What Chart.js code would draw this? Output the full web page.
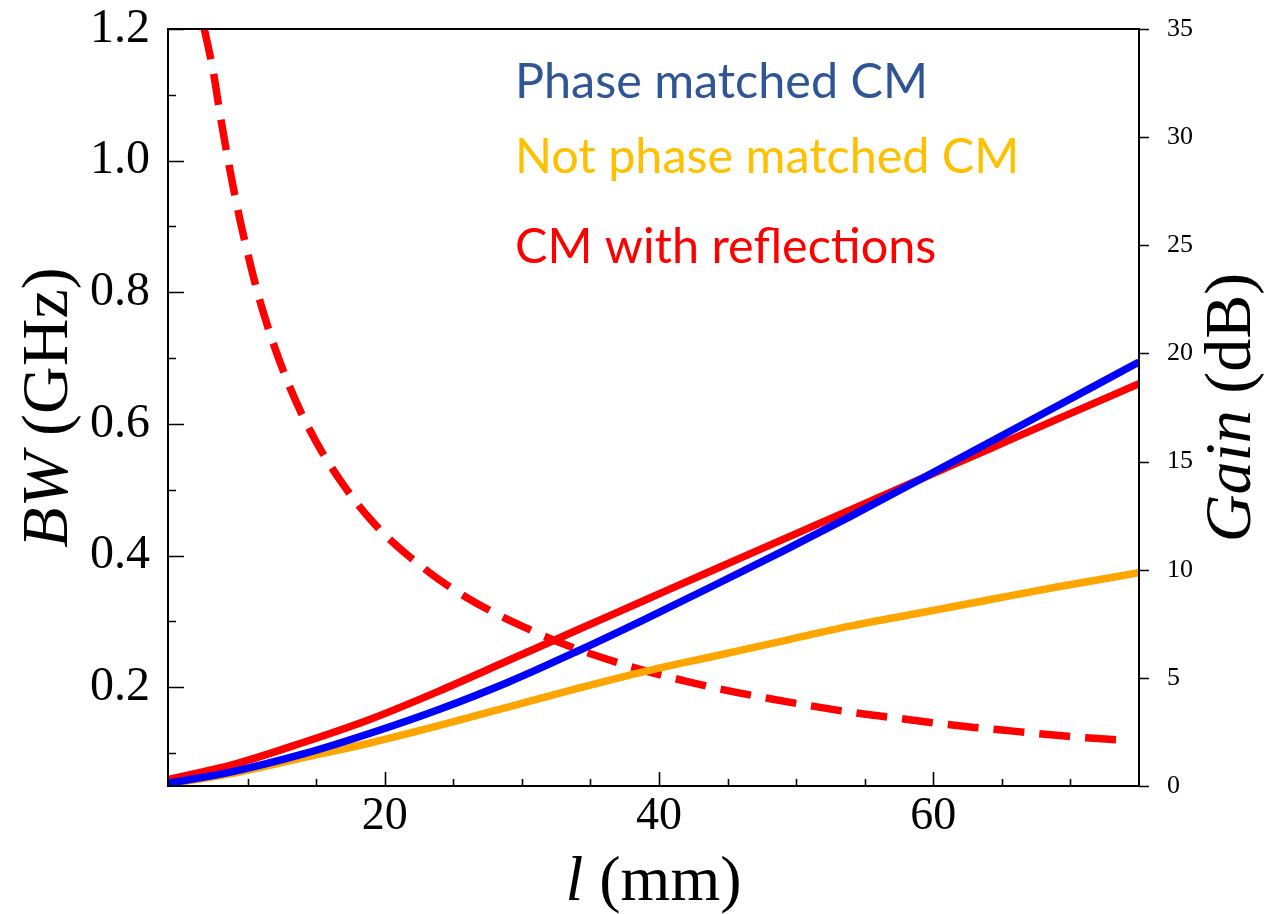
<!DOCTYPE html>
<html>
<head>
<meta charset="utf-8">
<script src="https://cdn.jsdelivr.net/npm/chart.js@4"></script>
<style>
  html, body { margin: 0; padding: 0; background: #ffffff; }
  #wrap { width: 1268px; height: 914px; }
</style>
</head>
<body>
<div id="wrap"><canvas id="gainChart" width="1268" height="914"></canvas></div>
<script>
// length l (mm) used for the three gain curves
const lengthMm = [4.2, 9, 14, 19, 24, 29, 34, 39, 44, 49, 54, 59, 64, 69, 75];
// gain (dB), right axis
const gainPhaseMatched = [0.12, 0.68, 1.47, 2.45, 3.55, 4.8, 6.22, 7.72, 9.27, 10.85, 12.48, 14.16, 15.86, 17.56, 19.6];
const gainNotMatched = [0.08, 0.6, 1.3, 2.0, 2.8, 3.65, 4.5, 5.3, 6.0, 6.7, 7.4, 8.0, 8.6, 9.2, 9.86];
const gainReflections = [0.3, 1.0, 2.0, 3.1, 4.4, 5.8, 7.2, 8.6, 10.0, 11.39, 12.78, 14.17, 15.56, 16.95, 18.6];

// bandwidth (GHz), left axis, dashed curve
const bwLengthMm = [6.85, 7.5, 8, 8.5, 9, 9.5, 10, 10.5, 11, 12, 13, 14, 15, 16, 17, 18, 19, 20,
  22, 24, 26, 28, 30, 33, 36, 39, 42, 45, 48, 51, 54, 57, 60, 63, 66, 69, 72, 74.1];
const bwReflections = [1.2, 1.135, 1.07, 1.01, 0.955, 0.905, 0.86, 0.818, 0.78, 0.715, 0.66, 0.613, 0.573, 0.538, 0.507, 0.479, 0.454, 0.432,
  0.395, 0.363, 0.336, 0.313, 0.293, 0.266, 0.244, 0.225, 0.209, 0.195, 0.183, 0.172, 0.162, 0.154, 0.146, 0.139, 0.133, 0.127, 0.122, 0.119];

// ticks
const xTicks = [10, 15, 20, 25, 30, 35, 40, 45, 50, 55, 60, 65, 70];
const xLabelTicks = [20, 40, 60];
const bwTicks = [0.1, 0.2, 0.3, 0.4, 0.5, 0.6, 0.7, 0.8, 0.9, 1.0, 1.1, 1.2];
const bwLabelTicks = [0.2, 0.4, 0.6, 0.8, 1.0, 1.2];
const gainTicks = [0, 5, 10, 15, 20, 25, 30, 35];

// text legend
const legendLabels = ['Phase matched CM', 'Not phase matched CM', 'CM with reflections'];
const legendColors = ['#2F5597', '#FFC000', '#FF0000'];

const SERIF = '"Liberation Serif", "DejaVu Serif", serif';

const toPoints = (xs, ys) => xs.map((x, i) => ({ x: x, y: ys[i] }));
const isLabelTick = (list, v) => list.some(t => Math.abs(t - v) < 1e-6);

// frame, tick marks, axis titles and text legend
const decorPlugin = {
  id: 'decor',
  afterDraw(chart) {
    const ctx = chart.ctx;
    const area = chart.chartArea;
    const xs = chart.scales.x;
    const yl = chart.scales.bw;
    const yr = chart.scales.gain;
    ctx.save();
    ctx.strokeStyle = '#000000';
    ctx.lineWidth = 2;
    ctx.strokeRect(area.left, area.top, area.right - area.left, area.bottom - area.top);

    ctx.lineWidth = 1.6;
    ctx.beginPath();
    xTicks.forEach(v => {
      const px = Math.round(xs.getPixelForValue(v)) + 0.5;
      const len = isLabelTick(xLabelTicks, v) ? 14 : 7;
      ctx.moveTo(px, area.bottom);
      ctx.lineTo(px, area.bottom - len);
    });
    bwTicks.forEach(v => {
      const py = Math.round(yl.getPixelForValue(v)) + 0.5;
      const len = isLabelTick(bwLabelTicks, v) ? 16 : 8;
      ctx.moveTo(area.left, py);
      ctx.lineTo(area.left + len, py);
    });
    gainTicks.forEach(v => {
      const py = Math.round(yr.getPixelForValue(v)) + 0.5;
      ctx.moveTo(area.right, py);
      ctx.lineTo(area.right + 10, py);
    });
    ctx.stroke();

    // axis titles: italic symbol + upright unit
    const drawTitle = (parts, cx, cy, rot) => {
      ctx.save();
      ctx.translate(cx, cy);
      ctx.rotate(rot);
      ctx.fillStyle = '#000000';
      ctx.textBaseline = 'alphabetic';
      ctx.textAlign = 'left';
      let total = 0;
      parts.forEach(p => { ctx.font = p.font; total += ctx.measureText(p.text).width; });
      let x = -total / 2;
      parts.forEach(p => {
        ctx.font = p.font;
        ctx.fillText(p.text, x, 0);
        x += ctx.measureText(p.text).width;
      });
      ctx.restore();
    };
    const cy = (area.top + area.bottom) / 2;
    drawTitle([
      { text: 'l', font: 'italic 64px ' + SERIF },
      { text: ' (mm)', font: '64px ' + SERIF }
    ], (area.left + area.right) / 2, 900, 0);
    drawTitle([
      { text: 'BW', font: 'italic 66px ' + SERIF },
      { text: ' (GHz)', font: '66px ' + SERIF }
    ], 67, cy, -Math.PI / 2);
    drawTitle([
      { text: 'Gain', font: 'italic 66px ' + SERIF },
      { text: ' (dB)', font: '66px ' + SERIF }
    ], 1250, cy, -Math.PI / 2);

    // legend text
    const baselines = [98, 173, 263];
    ctx.font = '48.5px Lato, "Open Sans", sans-serif';
    ctx.textAlign = 'left';
    ctx.textBaseline = 'alphabetic';
    legendLabels.forEach((t, i) => {
      ctx.fillStyle = legendColors[i];
      ctx.fillText(t, 515, baselines[i]);
    });
    ctx.restore();
  }
};

const lineStyle = (color) => ({
  borderColor: color,
  backgroundColor: color,
  borderWidth: 7.5,
  pointRadius: 0,
  fill: false,
  cubicInterpolationMode: 'monotone',
  borderCapStyle: 'butt'
});

new Chart(document.getElementById('gainChart').getContext('2d'), {
  type: 'line',
  data: {
    datasets: [
      Object.assign({ label: 'Phase matched CM', data: toPoints(lengthMm, gainPhaseMatched), yAxisID: 'gain', order: 1 }, lineStyle('#0000FF')),
      Object.assign({ label: 'CM with reflections', data: toPoints(lengthMm, gainReflections), yAxisID: 'gain', order: 2 }, lineStyle('#FF0000')),
      Object.assign({ label: 'Not phase matched CM', data: toPoints(lengthMm, gainNotMatched), yAxisID: 'gain', order: 3 }, lineStyle('#FFA500')),
      Object.assign({ label: 'BW', data: toPoints(bwLengthMm, bwReflections), yAxisID: 'bw', order: 4, borderDash: [31, 15] }, lineStyle('#FF0000'))
    ]
  },
  options: {
    responsive: false,
    devicePixelRatio: 1,
    animation: false,
    layout: { padding: { top: 29, left: 0, right: 0, bottom: 0 } },
    plugins: {
      legend: { display: false },
      tooltip: { enabled: false },
      title: { display: false }
    },
    scales: {
      x: {
        type: 'linear',
        position: 'bottom',
        min: 4.2,
        max: 75,
        grid: { display: false },
        border: { display: false },
        afterBuildTicks: (scale) => { scale.ticks = xTicks.map(v => ({ value: v })); },
        afterFit: (scale) => { scale.height = 128; scale.paddingLeft = 0; scale.paddingRight = 0; },
        ticks: {
          autoSkip: false,
          maxRotation: 0,
          padding: -5,
          color: '#000000',
          font: { family: SERIF, size: 46 },
          callback: (v) => isLabelTick(xLabelTicks, v) ? String(v) : ''
        }
      },
      bw: {
        type: 'linear',
        position: 'left',
        min: 0.05,
        max: 1.2,
        grid: { display: false },
        border: { display: false },
        afterBuildTicks: (scale) => { scale.ticks = bwTicks.map(v => ({ value: v })); },
        afterFit: (scale) => { scale.width = 168; scale.paddingTop = 0; scale.paddingBottom = 0; },
        ticks: {
          autoSkip: false,
          padding: 10,
          color: '#000000',
          font: { family: SERIF, size: 48 },
          callback: (v) => isLabelTick(bwLabelTicks, v) ? v.toFixed(1) : ''
        }
      },
      gain: {
        type: 'linear',
        position: 'right',
        min: 0,
        max: 35,
        grid: { display: false },
        border: { display: false },
        afterBuildTicks: (scale) => { scale.ticks = gainTicks.map(v => ({ value: v })); },
        afterFit: (scale) => { scale.width = 129; scale.paddingTop = 0; scale.paddingBottom = 0; },
        ticks: {
          autoSkip: false,
          padding: 20,
          color: '#000000',
          font: { family: SERIF, size: 26 },
          callback: (v) => String(v)
        }
      }
    }
  },
  plugins: [decorPlugin]
});
</script>
</body>
</html>
